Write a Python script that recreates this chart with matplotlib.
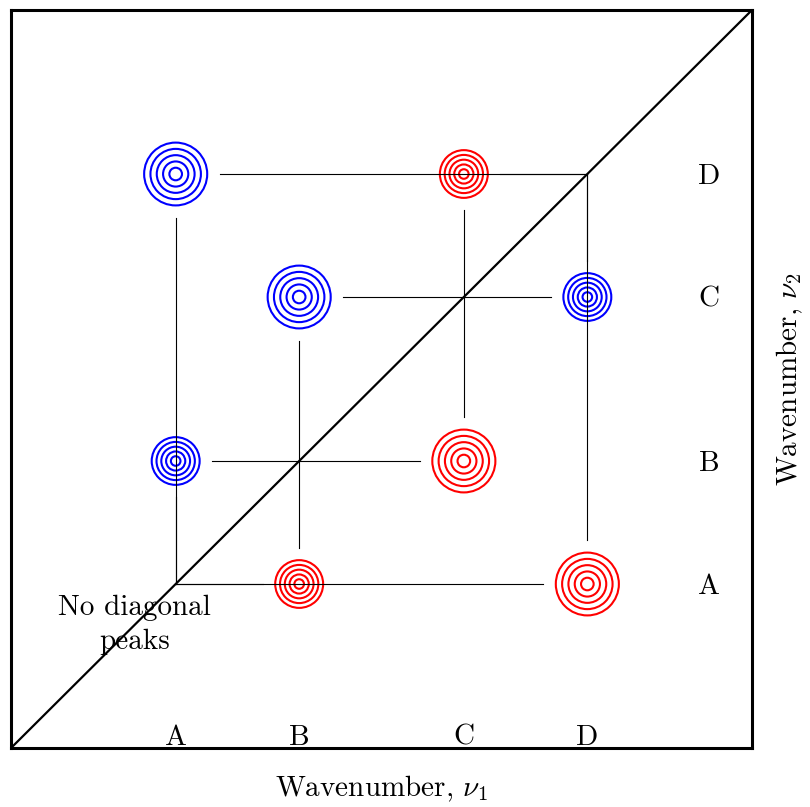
import matplotlib
matplotlib.use("Agg")
import matplotlib.pyplot as plt
from matplotlib.patches import Circle

plt.rcParams['font.family'] = 'serif'
plt.rcParams['font.serif'] = ['cmr10']
plt.rcParams['mathtext.fontset'] = 'cm'
plt.rcParams['axes.unicode_minus'] = False

# band positions on both wavenumber axes
band_names = ['A', 'B', 'C', 'D']
band_pos = [2.0, 3.5, 5.5, 7.0]

# cross peaks: (nu1 band, nu2 band), colour and relative size
peak_x = ['A', 'D', 'B', 'C', 'A', 'B', 'C', 'D']
peak_y = ['D', 'A', 'C', 'B', 'B', 'A', 'D', 'C']
peak_color = ['blue', 'red', 'blue', 'red', 'blue', 'red', 'red', 'blue']
peak_size = [1.0, 1.0, 1.0, 1.0, 0.76, 0.76, 0.76, 0.76]

ring_levels = [1.0, 0.8, 0.6, 0.4, 0.2]
r_max = 0.383
pos = dict(zip(band_names, band_pos))

fig = plt.figure(figsize=(8.1, 8.07), dpi=100)
ax = fig.add_axes([0.0136, 0.0731, 0.9148, 0.9145])
ax.set_xlim(0, 9)
ax.set_ylim(0, 9)
ax.set_xticks([])
ax.set_yticks([])
for s in ax.spines.values():
    s.set_linewidth(2.2)

# diagonal
ax.plot([0, 9], [0, 9], color='black', lw=1.6, zorder=4)

for bx, by, c, sz in zip(peak_x, peak_y, peak_color, peak_size):
    x, y = pos[bx], pos[by]
    r = r_max * sz
    for lev in ring_levels:
        ax.add_patch(Circle((x, y), r * lev, fill=False, ec=c, lw=1.5, zorder=2))
    gap = r + 0.15
    # from diagonal peak (x,x) towards the cross peak
    if y > x:
        ax.plot([x, x], [x, y - gap], color='black', lw=0.8, zorder=3)
        ax.plot([y, x + gap], [y, y], color='black', lw=0.8, zorder=3)
    else:
        ax.plot([x, x], [x, y + gap], color='black', lw=0.8, zorder=3)
        ax.plot([y, x - gap], [y, y], color='black', lw=0.8, zorder=3)

fs = 21
for name, p in zip(band_names, band_pos):
    ax.text(p, 0.04, name, ha='center', va='baseline', fontsize=fs)
    ax.text(8.48, p - 0.12, name, ha='center', va='baseline', fontsize=fs)

ax.text(1.5, 1.5, 'No diagonal\npeaks', ha='center', va='center',
        fontsize=fs, multialignment='center', linespacing=1.4)

ax.text(0.5, -0.035, r'Wavenumber, $\nu_1$', transform=ax.transAxes,
        ha='center', va='top', fontsize=fs)
ax.text(1.051, 0.5, r'Wavenumber, $\nu_2$', transform=ax.transAxes,
        ha='center', va='center', rotation=90, fontsize=fs)

fig.savefig('out.png', dpi=100)
